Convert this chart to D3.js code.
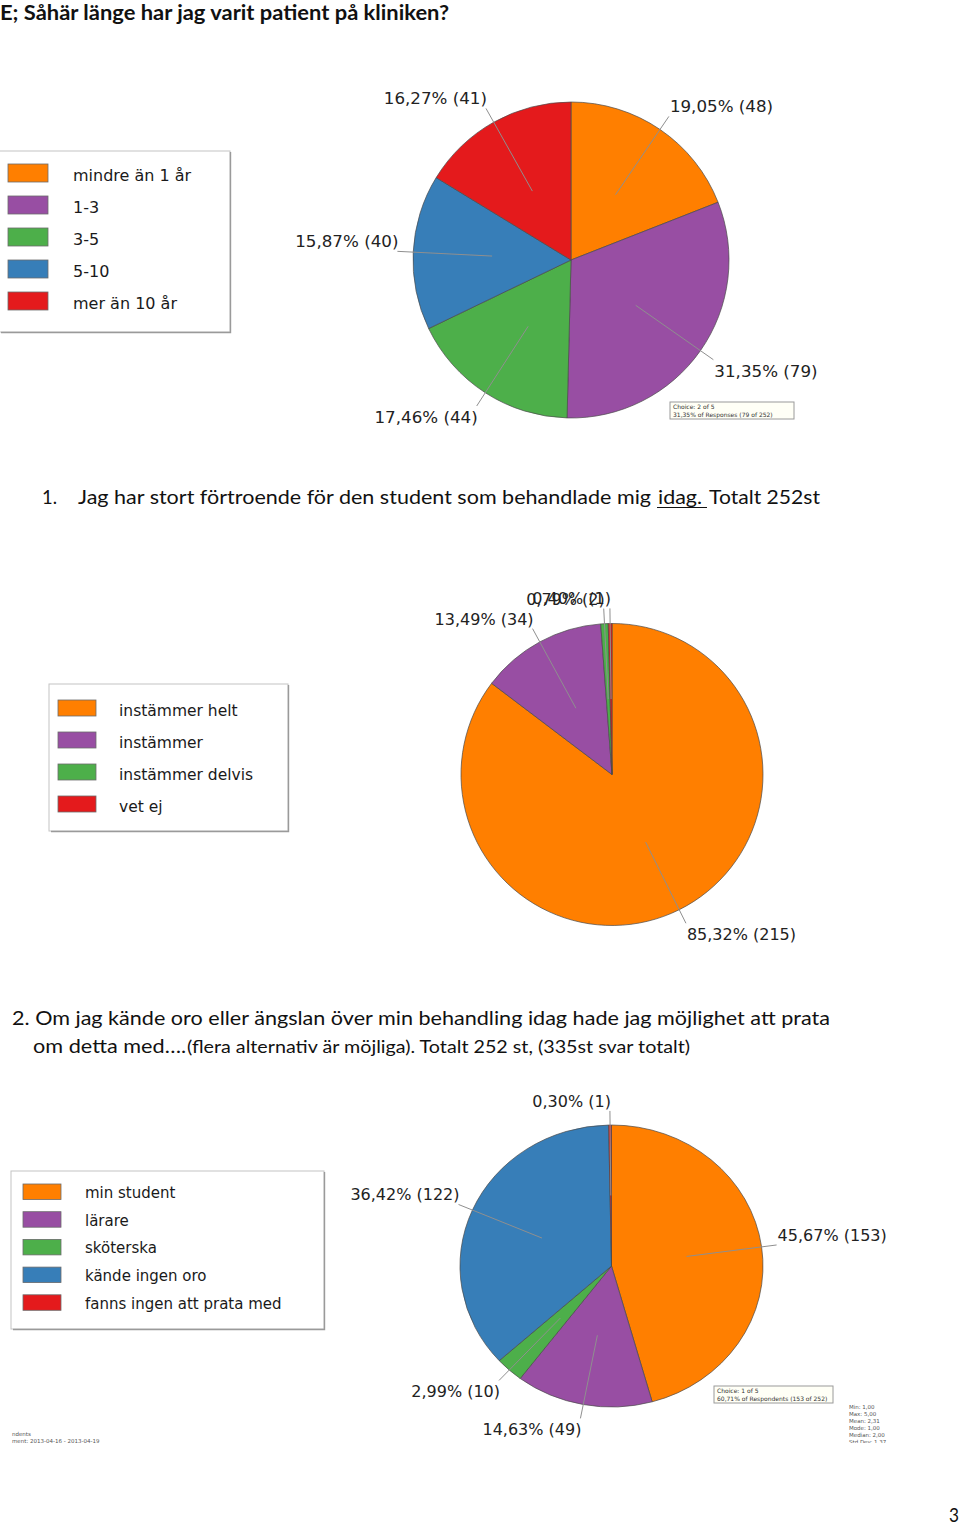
<!DOCTYPE html>
<html><head><meta charset="utf-8">
<script src="https://cdn.jsdelivr.net/npm/d3@7"></script>
<style>body{margin:0;background:#fff}svg{display:block}</style>
</head><body>
<script>
// ---------- DATA ----------
const q1Categories = ["mindre än 1 år", "1-3", "3-5", "5-10", "mer än 10 år"];
const q1Counts = [48, 79, 44, 40, 41];
const q1Colors = ["#FF7F00", "#984EA3", "#4DAF4A", "#377EB8", "#E41A1C"];

const q2Categories = ["instämmer helt", "instämmer", "instämmer delvis", "vet ej"];
const q2Counts = [215, 34, 2, 1];
const q2Colors = ["#FF7F00", "#984EA3", "#4DAF4A", "#E41A1C"];

const q3Categories = ["min student", "lärare", "sköterska", "kände ingen oro", "fanns ingen att prata med"];
const q3Counts = [153, 49, 10, 122, 1];
const q3Colors = ["#FF7F00", "#984EA3", "#4DAF4A", "#377EB8", "#E41A1C"];
const q3Respondents = 252;

const statsLabels = ["Min: 1,00", "Max: 5,00", "Mean: 2,31", "Mode: 1,00", "Median: 2,00", "Std Dev: 1,37"];
const footerLeft = ["ndents", "ment: 2013-04-16 - 2013-04-19"];

const titleText = "E; Såhär länge har jag varit patient på kliniken?";
const q1Heading = ["Jag har stort förtroende för den student som behandlade mig", "idag.", "Totalt 252st"];
const q2Heading1 = "2. Om jag kände oro eller ängslan över min behandling idag hade jag möjlighet att prata";
const q2Heading2a = "om detta med….";
const q2Heading2b = "(flera alternativ är möjliga). Totalt 252 st, (335st svar totalt)";

// ---------- DRAW ----------
const svg = d3.select("body").append("svg").attr("width", 960).attr("height", 1526)
  .style("background", "#fff");

const headFont = "Lato, 'Open Sans', sans-serif";
const chartFont = "'DejaVu Sans', Verdana, sans-serif";
const pct = v => v.toFixed(2).replace(".", ",");

function fitText(x, y, str, size, len, opts = {}) {
  const t = svg.append("text").attr("x", x).attr("y", y)
    .attr("font-family", headFont).attr("font-size", size)
    .attr("font-weight", opts.bold ? 700 : 400).attr("fill", "#111").text(str);
  if (len) t.attr("textLength", len).attr("lengthAdjust", "spacingAndGlyphs");
  return t;
}

// headings
fitText(0, 20, titleText, 20, 449, {bold: true});
fitText(42, 504, "1.", 20, 15);
fitText(78, 504, q1Heading[0], 20, 573);
fitText(658, 504, q1Heading[1], 20, 44);
svg.append("line").attr("x1", 657).attr("x2", 707).attr("y1", 507.5).attr("y2", 507.5)
  .attr("stroke", "#111").attr("stroke-width", 1.2);
fitText(709, 504, q1Heading[2], 20, 111);
fitText(12, 1025, q2Heading1, 20, 818);
fitText(33, 1053, q2Heading2a, 20, 153);
fitText(187, 1053, q2Heading2b, 17.5, 503);
fitText(949, 1522, "3", 20, 10);

function drawLegend(box, cats, colors, sw, fontSize) {
  const g = svg.append("g");
  g.append("rect").attr("x", box.x).attr("y", box.y).attr("width", box.w).attr("height", box.h)
    .attr("fill", "#fff").attr("stroke", "#c4c4c4").attr("stroke-width", 1);
  g.append("path").attr("d", `M${box.x + 2},${box.y + box.h + 0.5}H${box.x + box.w + 0.5}V${box.y + 1}`)
    .attr("fill", "none").attr("stroke", "#9a9a9a").attr("stroke-width", 1.4);
  cats.forEach((c, i) => {
    const y = sw.y + i * sw.step;
    g.append("rect").attr("x", sw.x).attr("y", y).attr("width", sw.w).attr("height", sw.h)
      .attr("fill", colors[i]).attr("stroke", "#6b6b6b").attr("stroke-width", 0.8);
    g.append("text").attr("x", sw.tx).attr("y", y + sw.base)
      .attr("font-family", chartFont).attr("font-size", fontSize).attr("fill", "#1a1a1a").text(c);
  });
}

function drawPie(cfg) {
  const {counts, colors, cx, cy, r, ry, fontSize} = cfg;
  const sum = d3.sum(counts);
  const k = (ry || r) / r;
  const arcs = d3.pie().sort(null).value(d => d)(counts);
  const arc = d3.arc().innerRadius(0).outerRadius(r);
  const g = svg.append("g").attr("transform", `translate(${cx},${cy}) scale(1,${k})`);
  g.selectAll("path").data(arcs).join("path").attr("d", arc)
    .attr("fill", (d, i) => colors[i]).attr("stroke", "#4a4a4a").attr("stroke-width", 0.7)
    .attr("vector-effect", "non-scaling-stroke");
  const pt = (a, f) => [cx + f * r * Math.sin(a), cy - f * r * k * Math.cos(a)];
  const lg = svg.append("g");
  arcs.forEach(d => {
    const a = (d.startAngle + d.endAngle) / 2;
    const p0 = pt(a, 0.5), p1 = pt(a, 1.1);
    lg.append("line").attr("x1", p0[0]).attr("y1", p0[1]).attr("x2", p1[0]).attr("y2", p1[1])
      .attr("stroke", "#8f8f8f").attr("stroke-width", 1);
    const right = Math.sin(a) >= 0;
    lg.append("text").attr("x", p1[0] + (right ? 1 : 1)).attr("y", p1[1] + (Math.cos(a) >= 0 ? -4 : 17))
      .attr("text-anchor", right ? "start" : "end")
      .attr("font-family", chartFont).attr("font-size", fontSize).attr("fill", "#222")
      .text(`${pct(d.data / sum * 100)}% (${d.data})`);
  });
}

function tooltip(x, y, w, h, lines) {
  svg.append("rect").attr("x", x).attr("y", y).attr("width", w).attr("height", h)
    .attr("fill", "#fffff6").attr("stroke", "#9a9a9a").attr("stroke-width", 1);
  lines.forEach((l, i) => svg.append("text").attr("x", x + 3).attr("y", y + 7 + i * 7.5)
    .attr("font-family", chartFont).attr("font-size", 6).attr("fill", "#333").text(l));
}

// Chart 1
drawLegend({x: -1, y: 151, w: 231, h: 181}, q1Categories, q1Colors,
  {x: 8, y: 164, w: 40, h: 18, step: 32, tx: 73, base: 17}, 16);
drawPie({counts: q1Counts, colors: q1Colors, cx: 571, cy: 260, r: 158, fontSize: 16.7});
{
  const s = d3.sum(q1Counts);
  tooltip(670, 402, 124, 17, ["Choice: 2 of 5",
    `${pct(q1Counts[1] / s * 100)}% of Responses (${q1Counts[1]} of ${s})`]);
}

// Chart 2
drawLegend({x: 49, y: 684, w: 239, h: 147}, q2Categories, q2Colors,
  {x: 58, y: 700, w: 38, h: 16, step: 32, tx: 119, base: 16}, 15.5);
drawPie({counts: q2Counts, colors: q2Colors, cx: 612, cy: 774.5, r: 151, fontSize: 16});

// Chart 3
drawLegend({x: 11, y: 1171, w: 313, h: 158}, q3Categories, q3Colors,
  {x: 23, y: 1184, w: 38, h: 15.5, step: 27.7, tx: 85, base: 14}, 15);
drawPie({counts: q3Counts, colors: q3Colors, cx: 611.5, cy: 1266, r: 151.5, ry: 141, fontSize: 16});
tooltip(714, 1386, 119, 17, ["Choice: 1 of 5",
  `${pct(q3Counts[0] / q3Respondents * 100)}% of Respondents (${q3Counts[0]} of ${q3Respondents})`]);

// small footer texts
footerLeft.forEach((t, i) => svg.append("text").attr("x", 12).attr("y", 1436 + i * 7)
  .attr("font-family", chartFont).attr("font-size", 5.5).attr("fill", "#555").text(t));
const clip = svg.append("clipPath").attr("id", "statsClip");
clip.append("rect").attr("x", 840).attr("y", 1398).attr("width", 60).attr("height", 45);
const sg = svg.append("g").attr("clip-path", "url(#statsClip)");
statsLabels.forEach((t, i) => sg.append("text").attr("x", 849).attr("y", 1409 + i * 7)
  .attr("font-family", chartFont).attr("font-size", 5.5).attr("fill", "#555").text(t));
</script>
</body></html>
